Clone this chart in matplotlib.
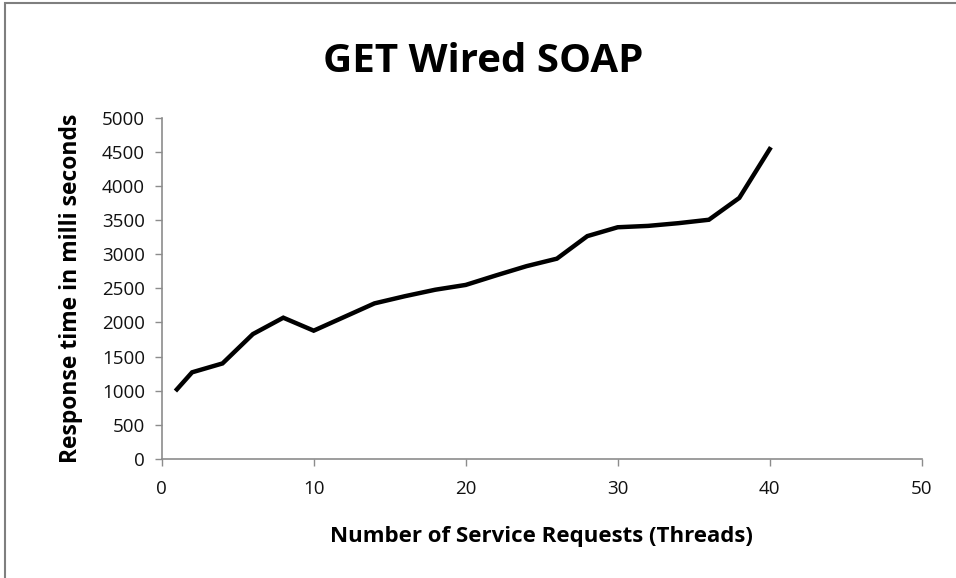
import matplotlib
matplotlib.use("Agg")
import matplotlib.pyplot as plt
from matplotlib.patches import Rectangle
from matplotlib import font_manager

threads = [1, 2, 4, 6, 8, 10, 12, 14, 16, 18, 20, 22, 24, 26, 28, 30, 32, 34, 36, 38, 40]
response_ms = [1020, 1270, 1400, 1830, 2070, 1880, 2080, 2280, 2385, 2480, 2550,
               2690, 2825, 2935, 3265, 3395, 3415, 3455, 3505, 3825, 4540]

x_ticks = [0, 10, 20, 30, 40, 50]
y_ticks = list(range(0, 5001, 500))

names = {f.name for f in font_manager.fontManager.ttflist}
font = "Liberation Sans Narrow" if "Liberation Sans Narrow" in names else "Open Sans"
plt.rcParams['font.family'] = [font, 'DejaVu Sans']

AXIS_GREY = '#8c8c8c'

fig = plt.figure(figsize=(9.56, 5.78), dpi=100)
ax = fig.add_axes([161.7 / 956, 1 - 459 / 578, 760 / 956, 341.3 / 578])

ax.plot(threads, response_ms, color='black', linewidth=3.2, solid_joinstyle='miter')

ax.set_xlim(0, 50)
ax.set_ylim(0, 5000)
ax.set_xticks(x_ticks)
ax.set_yticks(y_ticks)
ax.tick_params(axis='both', direction='out', length=5, width=1, color=AXIS_GREY,
               labelsize=13.5, labelcolor='#111111')
ax.tick_params(axis='x', pad=10)
ax.tick_params(axis='y', pad=7)

for side in ['top', 'right']:
    ax.spines[side].set_visible(False)
for side in ['left', 'bottom']:
    ax.spines[side].set_color(AXIS_GREY)
    ax.spines[side].set_linewidth(1.2)

ax.set_xlabel("Number of Service Requests (Threads)", fontsize=16, fontweight='bold', labelpad=20)
ax.set_ylabel("Response time in milli seconds", fontsize=16.5, fontweight='bold', labelpad=14)

fig.text(483 / 956, 1 - 61 / 578, "GET Wired SOAP", fontsize=29, fontweight='bold',
         ha='center', va='center')

# outer chart frame (only top and left edges fall inside the crop)
frame = Rectangle((4.5 / 956, -0.2), 1.2, 1.2 - 2.5 / 578, transform=fig.transFigure,
                  fill=False, edgecolor='#7f7f7f', linewidth=1.5, clip_on=False)
fig.add_artist(frame)

fig.savefig("out.png", dpi=100, facecolor='white')
